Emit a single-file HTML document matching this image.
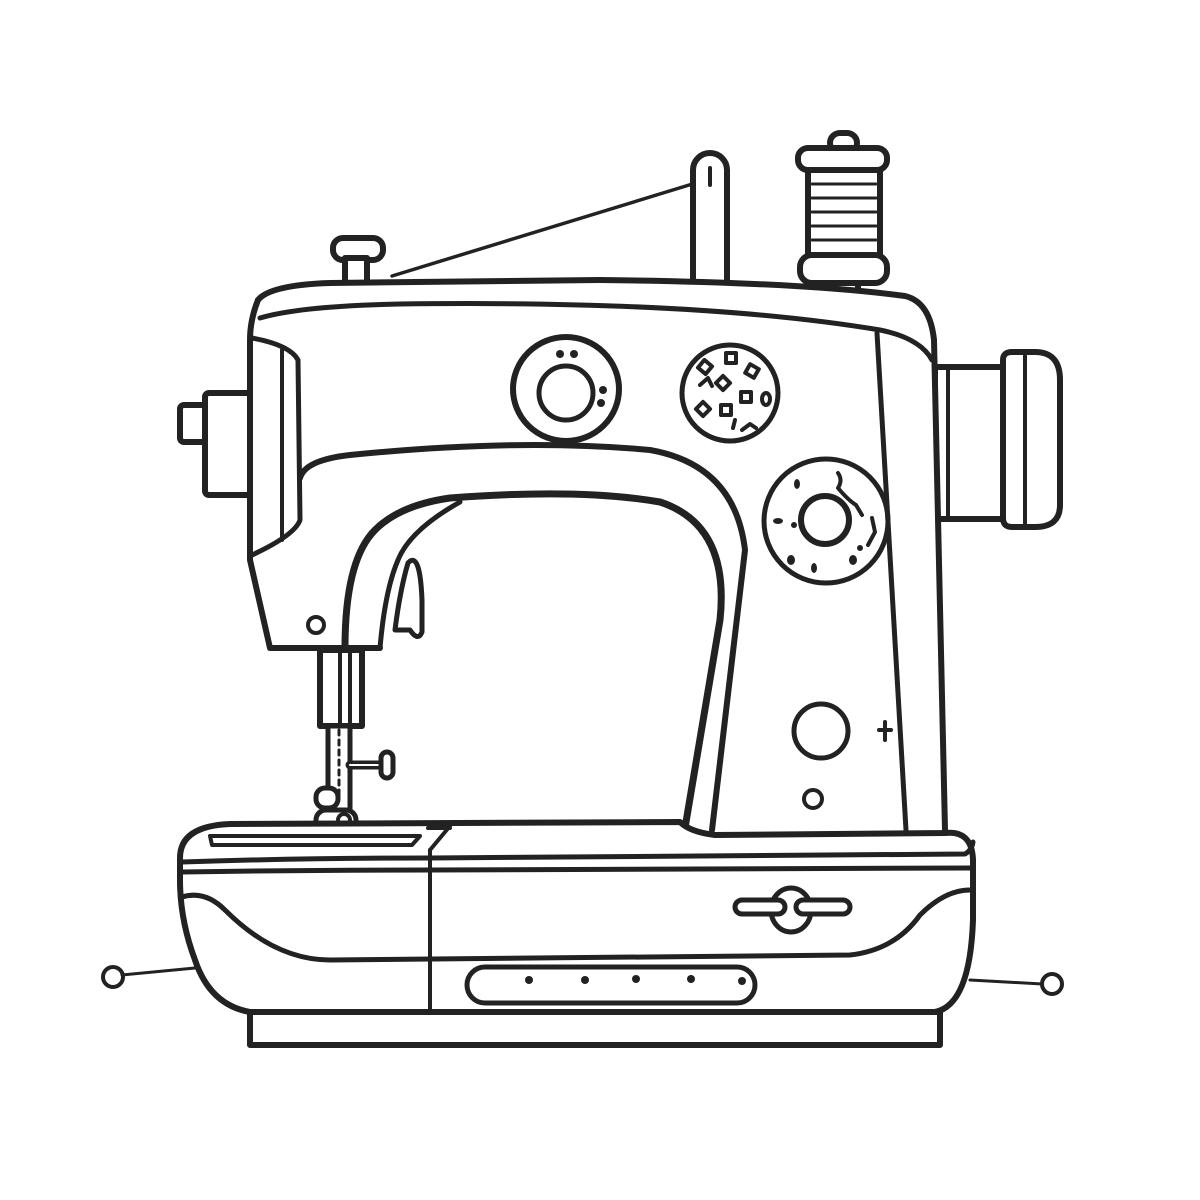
<!DOCTYPE html>
<html><head><meta charset="utf-8"><style>html,body{margin:0;padding:0;background:#fff}svg{display:block}</style></head>
<body>
<svg width="1200" height="1200" viewBox="0 0 1200 1200" xmlns="http://www.w3.org/2000/svg" fill="none" stroke="#222" stroke-width="6" stroke-linecap="round" stroke-linejoin="round">
<rect width="1200" height="1200" fill="#fff" stroke="none"/>
<!-- thread -->
<line x1="392" y1="276" x2="712" y2="178" stroke-width="3.5"/>
<!-- spool pin -->
<rect x="333" y="238" width="50" height="22" rx="10" fill="#fff"/>
<rect x="345" y="258" width="22" height="28" fill="#fff"/>
<!-- thread guide -->
<rect x="693" y="153" width="34" height="145" rx="17" fill="#fff"/>
<path d="M710 168 L710 185" stroke-width="4"/>
<!-- spool -->
<rect x="830" y="133" width="27" height="20" rx="10" fill="#fff"/>
<rect x="828" y="280" width="30" height="18" fill="#fff"/>
<rect x="808" y="165" width="72" height="100" fill="#fff"/>
<rect x="798" y="148" width="89" height="22" rx="10" fill="#fff"/>
<rect x="800" y="255" width="87" height="28" rx="12" fill="#fff"/>
<g stroke-width="3"><line x1="812" y1="184" x2="876" y2="184"/><line x1="812" y1="198" x2="876" y2="198"/><line x1="812" y1="212" x2="876" y2="212"/><line x1="812" y1="226" x2="876" y2="226"/><line x1="812" y1="240" x2="876" y2="240"/></g>
<!-- right handwheel -->
<rect x="935" y="367" width="68" height="152" fill="#fff"/>
<line x1="948" y1="370" x2="948" y2="516" stroke-width="4"/>
<path d="M1003 360 Q1003 352 1012 352 L1035 352 Q1060 352 1060 380 L1060 505 Q1060 527 1035 527 L1012 527 Q1003 527 1003 518 Z" fill="#fff"/>
<line x1="1025" y1="356" x2="1025" y2="523" stroke-width="4"/>
<!-- left knob -->
<rect x="180" y="405" width="30" height="37" rx="4" fill="#fff"/>
<rect x="205" y="393" width="48" height="102" rx="4" fill="#fff"/>
<!-- head body fill -->
<path d="M258 300 Q270 285 330 283 L600 280 Q800 282 905 296 Q930 302 934 340 L945 830 L250 830 L250 340 Q250 320 258 300 Z" fill="#fff" stroke="none"/>
<!-- head outlines -->
<path d="M258 300 Q270 285 330 283 L600 280 Q800 282 905 296 Q930 302 934 340 L945 830"/>
<path d="M258 300 Q250 320 250 340 L250 560 L270 648 L380 648"/>
<path d="M260 318 Q300 306 400 304 Q700 300 880 330 Q920 338 932 360" stroke-width="5"/>
<line x1="877" y1="333" x2="906" y2="830" stroke-width="5"/>
<!-- left panel -->
<path d="M252 338 Q290 345 298 360 L300 520 Q295 535 252 555" stroke-width="5"/>
<line x1="282" y1="350" x2="282" y2="540" stroke-width="4"/>
<!-- arm -->
<path d="M300 478 Q305 460 350 455 Q520 438 650 450 Q735 465 745 550 L712 830" stroke-width="6"/>
<path d="M345 648 Q345 560 375 530 Q400 505 450 498 Q580 488 660 502 Q730 525 720 620 L685 828" stroke-width="7"/>
<path d="M380 648 Q385 590 398 560 Q410 530 460 502" stroke-width="5"/>
<path d="M395 630 Q400 590 408 563 Q420 550 422 600 L422 632 Q418 642 410 630 L396 630 Z" fill="#fff" stroke-width="5"/>
<circle cx="316" cy="625" r="8" stroke-width="4"/>
<!-- dials -->
<ellipse cx="566" cy="389" rx="53" ry="52"/>
<circle cx="566" cy="393" r="27" stroke-width="5"/>
<g fill="#222" stroke="none"><circle cx="560" cy="354" r="4"/><circle cx="574" cy="354" r="4"/><circle cx="603" cy="390" r="4"/><circle cx="601" cy="403" r="4"/></g>
<circle cx="730" cy="393" r="48" stroke-width="5"/>
<g stroke-width="4"><rect x="700" y="362" width="10" height="10" transform="rotate(40 705 367)"/><rect x="726" y="353" width="10" height="10"/><rect x="747" y="366" width="10" height="10" transform="rotate(30 752 371)"/><rect x="718" y="378" width="10" height="10" transform="rotate(45 723 383)"/><rect x="741" y="392" width="10" height="10"/><rect x="698" y="404" width="10" height="10" transform="rotate(45 703 409)"/><rect x="721" y="405" width="10" height="10"/><ellipse cx="766" cy="399" rx="4" ry="6"/><path d="M733 428 L735 420 M742 430 L750 424 L756 428"/><path d="M700 385 L708 378 L712 386" /></g>
<circle cx="826" cy="521" r="62" stroke-width="5"/>
<circle cx="825" cy="520" r="24" stroke-width="6"/>
<g fill="#222" stroke="none"><ellipse cx="797" cy="484" rx="3" ry="5"/><ellipse cx="778" cy="521" rx="5" ry="3"/><circle cx="794" cy="525" r="3"/><ellipse cx="791" cy="560" rx="4" ry="5"/><ellipse cx="814" cy="568" rx="3" ry="5"/><ellipse cx="853" cy="560" rx="4" ry="5"/><circle cx="860" cy="548" r="3"/></g>
<path d="M838 473 Q843 480 838 488 Q848 500 856 505 L862 515 M872 518 L875 532 L868 545" stroke-width="4"/>
<circle cx="821" cy="731" r="27" stroke-width="5"/>
<circle cx="813" cy="799" r="9" stroke-width="4"/>
<path d="M885 722 L885 740 M879 730 L891 730" stroke-width="4"/>
<!-- needle -->
<rect x="320" y="650" width="42" height="76" fill="#fff"/>
<line x1="340" y1="652" x2="340" y2="724" stroke-width="4"/>
<line x1="350" y1="652" x2="350" y2="724" stroke-width="4"/>
<rect x="328" y="726" width="22" height="90" fill="#fff" stroke-width="5"/>
<line x1="339" y1="730" x2="339" y2="800" stroke-width="3" stroke-dasharray="5 5"/>
<line x1="350" y1="765" x2="385" y2="765" stroke-width="9"/>
<line x1="350" y1="765" x2="385" y2="765" stroke="#fff" stroke-width="2"/>
<rect x="381" y="752" width="12" height="26" rx="6" fill="#fff" stroke-width="5"/>
<rect x="316" y="788" width="22" height="20" rx="9" fill="#fff" stroke-width="5"/>
<rect x="316" y="810" width="40" height="25" rx="10" fill="#fff" stroke-width="5"/>
<circle cx="344" cy="820" r="6" stroke-width="4"/>
<!-- base -->
<path d="M180 858 Q180 826 230 824 L680 822 Q690 832 715 835 L945 833 Q972 830 973 860 L973 920 Q970 1005 935 1012 L250 1012 Q210 1005 195 960 Q180 920 180 880 Z" fill="#fff"/>
<path d="M210 836 L420 836 L412 845 L212 845 Z" stroke-width="4"/>
<line x1="428" y1="828" x2="450" y2="828" stroke-width="4"/>
<line x1="450" y1="826" x2="430" y2="850" stroke-width="4"/>
<path d="M182 862 Q300 858 430 858 L965 854 Q972 850 973 842" stroke-width="5"/>
<path d="M182 872 Q300 870 430 870 L970 868" stroke-width="5"/>
<line x1="430" y1="850" x2="430" y2="1010" stroke-width="4"/>
<path d="M182 897 Q205 890 225 910 Q275 960 330 960 L850 955 Q895 950 920 915 Q945 890 970 890" stroke-width="5"/>
<rect x="467" y="967" width="288" height="36" rx="18" stroke-width="5"/>
<g fill="#222" stroke="none"><circle cx="529" cy="980" r="4"/><circle cx="585" cy="980" r="4"/><circle cx="636" cy="979" r="4"/><circle cx="691" cy="979" r="4"/><circle cx="742" cy="981" r="4"/></g>
<ellipse cx="791" cy="910" rx="20" ry="22" fill="#fff" stroke-width="5"/>
<rect x="735" y="900" width="50" height="14" rx="7" fill="#fff" stroke-width="5"/>
<rect x="796" y="900" width="54" height="14" rx="7" fill="#fff" stroke-width="5"/>
<rect x="250" y="1012" width="690" height="33" fill="#fff"/>
<!-- pins -->
<line x1="122" y1="975" x2="195" y2="968" stroke-width="3"/>
<circle cx="113" cy="977" r="10" stroke-width="4"/>
<line x1="970" y1="980" x2="1042" y2="984" stroke-width="3"/>
<circle cx="1052" cy="984" r="10" stroke-width="4"/>
</svg>
</body></html>
